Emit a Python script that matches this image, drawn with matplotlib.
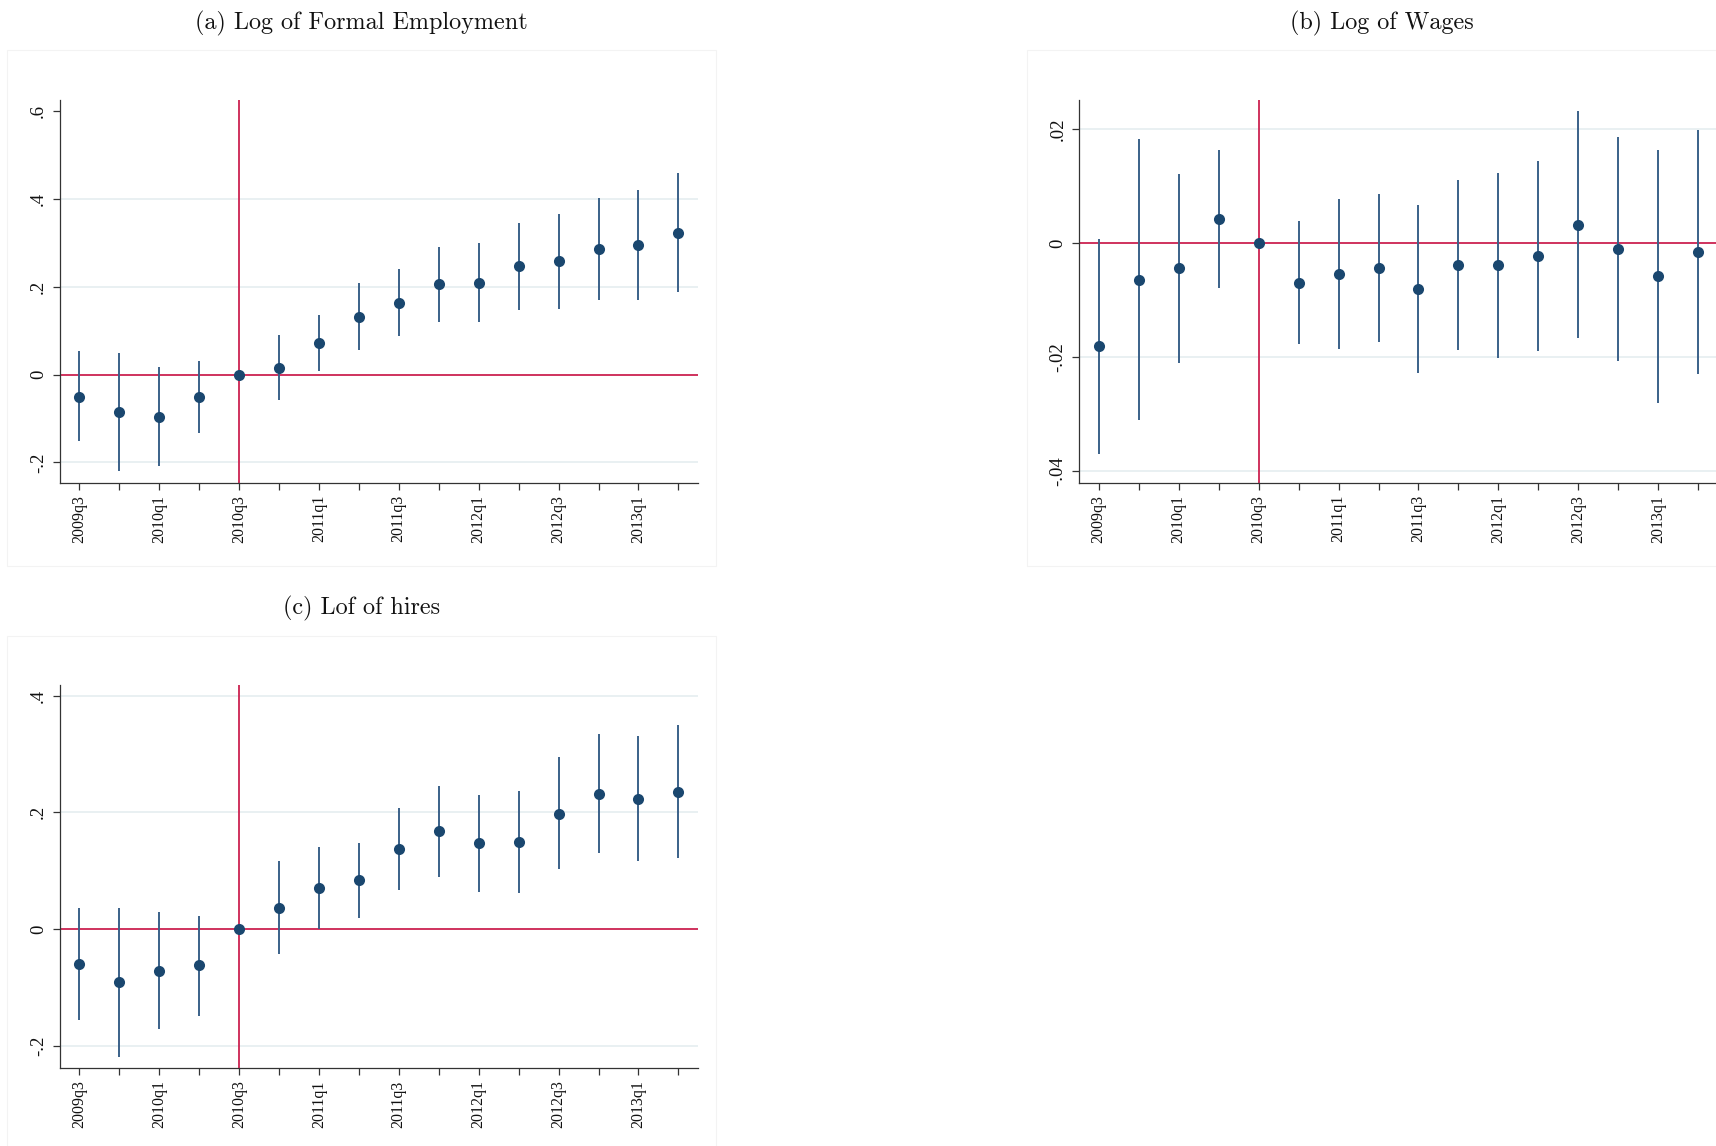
import matplotlib
matplotlib.use("Agg")
import matplotlib.pyplot as plt
from matplotlib.patches import Rectangle

# ---------------- data ----------------
quarters = ["2009q3", "2009q4", "2010q1", "2010q2", "2010q3", "2010q4",
            "2011q1", "2011q2", "2011q3", "2011q4", "2012q1", "2012q2",
            "2012q3", "2012q4", "2013q1", "2013q2"]
event_quarter = "2010q3"

emp_coef = [-0.050, -0.086, -0.096, -0.051, 0.0, 0.016, 0.071, 0.131,
            0.164, 0.205, 0.209, 0.247, 0.258, 0.286, 0.294, 0.323]
emp_hi = [0.053, 0.049, 0.017, 0.030, 0.0, 0.090, 0.135, 0.208,
          0.241, 0.290, 0.300, 0.346, 0.366, 0.403, 0.420, 0.459]
emp_lo = [-0.151, -0.220, -0.208, -0.132, 0.0, -0.058, 0.008, 0.055,
          0.087, 0.119, 0.119, 0.147, 0.150, 0.169, 0.169, 0.187]

wage_coef = [-0.0181, -0.0064, -0.0043, 0.0042, 0.0, -0.0070, -0.0054, -0.0043,
             -0.0080, -0.0039, -0.0039, -0.0023, 0.0032, -0.0010, -0.0058, -0.0016]
wage_hi = [0.0008, 0.0183, 0.0122, 0.0163, 0.0, 0.0038, 0.0078, 0.0087,
           0.0067, 0.0111, 0.0123, 0.0144, 0.0231, 0.0186, 0.0164, 0.0199]
wage_lo = [-0.0370, -0.0311, -0.0210, -0.0078, 0.0, -0.0177, -0.0186, -0.0173,
           -0.0227, -0.0188, -0.0201, -0.0190, -0.0167, -0.0206, -0.0280, -0.0230]

hire_coef = [-0.059, -0.091, -0.071, -0.062, 0.0, 0.037, 0.071, 0.084,
             0.138, 0.168, 0.147, 0.150, 0.198, 0.231, 0.223, 0.235]
hire_hi = [0.037, 0.037, 0.030, 0.022, 0.0, 0.117, 0.140, 0.148,
           0.208, 0.245, 0.230, 0.237, 0.294, 0.334, 0.331, 0.349]
hire_lo = [-0.155, -0.218, -0.171, -0.148, 0.0, -0.042, 0.0, 0.019,
           0.067, 0.090, 0.064, 0.062, 0.103, 0.130, 0.116, 0.122]

emp_yticks = [-0.2, 0.0, 0.2, 0.4, 0.6]
emp_ylabels = ["-.2", "0", ".2", ".4", ".6"]
emp_grid = [-0.2, 0.2, 0.4]
wage_yticks = [-0.04, -0.02, 0.0, 0.02]
wage_ylabels = ["-.04", "-.02", "0", ".02"]
wage_grid = [-0.04, -0.02, 0.02]
hire_yticks = [-0.2, 0.0, 0.2, 0.4]
hire_ylabels = ["-.2", "0", ".2", ".4"]
hire_grid = [-0.2, 0.2, 0.4]

titles = ["(a) Log of Formal Employment", "(b) Log of Wages", "(c) Lof of hires"]

# ---------------- style ----------------
W, H = 1716, 1146
NAVY = "#1a476f"
BAR = "#3a6189"
RED = "#cc2250"
GRID = "#e9f0f2"
SPINE = "#333333"

fig = plt.figure(figsize=(W / 100, H / 100), dpi=100)
fig.patch.set_facecolor("white")


def rect(l, r, t, b):
    return [l / W, 1 - b / H, (r - l) / W, (b - t) / H]


def box(l, r, t, b):
    fig.add_artist(Rectangle((l / W, 1 - b / H), (r - l) / W, (b - t) / H,
                             transform=fig.transFigure, fill=False,
                             edgecolor="#f3f3f3", lw=0.8, zorder=0))


def panel(axrect, coef, lo, hi, yticks, ylabels, grid, ylim, title, tpos):
    ax = fig.add_axes(axrect)
    x = list(range(len(quarters)))
    ev = quarters.index(event_quarter)
    for g in grid:
        ax.axhline(g, color=GRID, lw=1.4, zorder=0)
    ax.axhline(0, color=RED, lw=1.3, zorder=1)
    ax.axvline(ev, color=RED, lw=1.3, zorder=1)
    ax.vlines(x, lo, hi, color=BAR, lw=1.4, zorder=2)
    ax.plot(x, coef, "o", color=NAVY, ms=8, mew=0, zorder=3)
    ax.set_xlim(-0.49, len(quarters) - 1 + 0.49)
    ax.set_ylim(*ylim)
    ax.set_xticks(x)
    ax.set_xticklabels([q if i % 2 == 0 else "" for i, q in enumerate(quarters)],
                       rotation=90, fontfamily="Liberation Serif", fontsize=11.5,
                       va="top", ha="center")
    ax.set_yticks(yticks)
    ax.set_yticklabels(ylabels, rotation=90, fontfamily="Liberation Serif",
                       fontsize=13.5, va="center", ha="right")
    for s in ["top", "right"]:
        ax.spines[s].set_visible(False)
    for s in ["left", "bottom"]:
        ax.spines[s].set_color(SPINE)
        ax.spines[s].set_linewidth(0.9)
    ax.tick_params(axis="both", direction="out", length=5, width=0.9,
                   color=SPINE, labelcolor="#111111")
    ax.tick_params(axis="x", pad=4)
    ax.tick_params(axis="y", pad=4)
    ax.set_facecolor("white")
    fig.text(tpos[0] / W, 1 - tpos[1] / H, title, fontfamily="cmr10",
             fontsize=17.4, ha="center", va="center", color="#111111")
    return ax


box(7, 716, 50, 566)
box(1027, 1740, 50, 566)
box(7, 716, 636, 1160)

panel(rect(59.5, 698, 100, 482.6), emp_coef, emp_lo, emp_hi,
      emp_yticks, emp_ylabels, emp_grid, (-0.246, 0.625), titles[0], (361.5, 23))
panel(rect(1079, 1718, 100, 482.6), wage_coef, wage_lo, wage_hi,
      wage_yticks, wage_ylabels, wage_grid, (-0.042, 0.0251), titles[1], (1381.5, 23))
panel(rect(59.5, 698, 685, 1068), hire_coef, hire_lo, hire_hi,
      hire_yticks, hire_ylabels, hire_grid, (-0.2376, 0.418), titles[2], (361.5, 608))

fig.savefig("out.png", dpi=100, facecolor="white")
